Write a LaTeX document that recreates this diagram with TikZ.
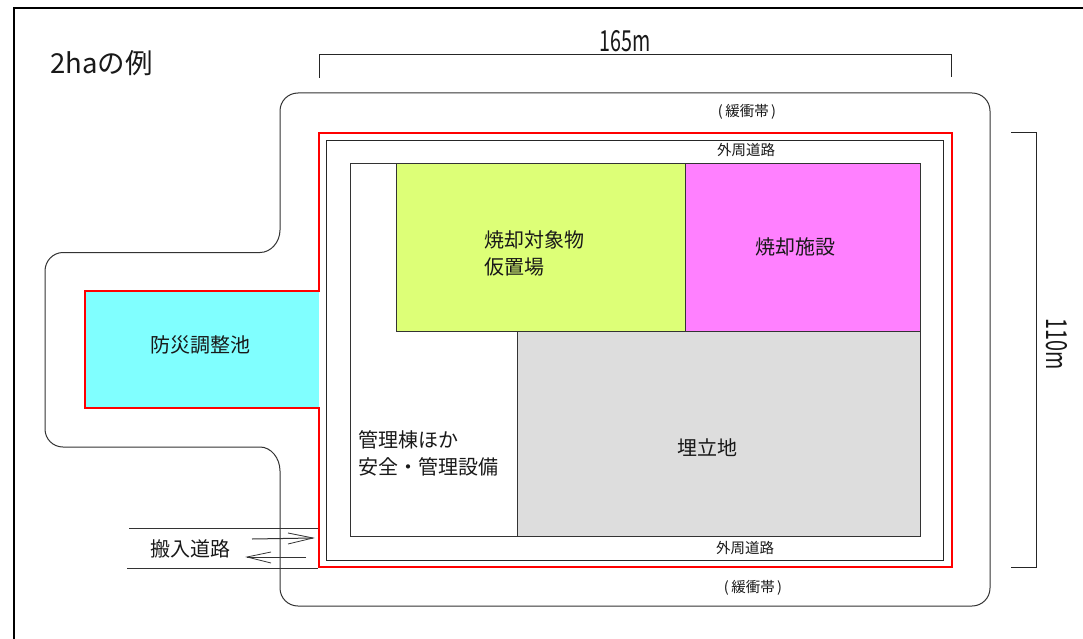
\documentclass[tikz,border=0pt]{standalone}
\usepackage{fontspec}
\setmainfont{Noto Sans CJK JP}
\newcommand{\narrowtxt}[1]{\scalebox{0.68}[1]{#1}}
\tikzset{
  line/.style={draw=black!80,line width=1pt},
  thinline/.style={draw=black!85,line width=0.9pt},
  redline/.style={draw=red,line width=2pt},
  box/.style={inner sep=0pt,outer sep=0pt,anchor=north west},
  lab/.style={inner sep=0pt,font=\fontsize{20}{27}\selectfont,text=black!90,align=left},
  small/.style={inner sep=0pt,font=\fontsize{14.5}{16}\selectfont,text=black!90},
  dim/.style={inner sep=0pt,font=\fontsize{29}{32}\selectfont,text=black!90}
}
\begin{document}
\begin{tikzpicture}[x=1pt,y=-1pt]
\useasboundingbox (0,0) rectangle (1083,639);
\fill[white] (0,0) rectangle (1083,639);
% frame
\coordinate (fa) at (14,639); \coordinate (fb) at (14,8); \coordinate (fc) at (1083,8);
\draw[black,line width=1.6pt] (fa) -- (fb) -- (fc);
% buffer outline
\draw[line] (298,93) -- (972,93) .. controls (982,93) and (990,101) .. (990,111) -- (990,588)
  .. controls (990,598) and (982,606) .. (972,606) -- (298,606)
  .. controls (288,606) and (280,598) .. (280,588) -- (280,471)
  .. controls (280,458) and (271,447) .. (260,447) -- (63,447)
  .. controls (53,447) and (45,439) .. (45,429) -- (45,271)
  .. controls (45,261) and (53,252.5) .. (63,252.5) -- (260,252.5)
  .. controls (271,252.5) and (280,242) .. (280,230) -- (280,111)
  .. controls (280,101) and (288,93) .. (298,93) -- cycle;
% fills
\node[box,fill={rgb,255:red,128;green,255;blue,255},minimum width=234pt,minimum height=117pt] (pond) at (85,291) {};
\node[box,thinline,minimum width=617pt,minimum height=420pt] (road) at (326,140) {};
\node[box,line,minimum width=570.5pt,minimum height=373pt] (site) at (350,163.5) {};
\node[box,line,fill={rgb,255:red,221;green,255;blue,119},minimum width=289pt,minimum height=167.5pt] (store) at (396.5,163.5) {};
\node[box,line,fill={rgb,255:red,255;green,128;blue,255},minimum width=235pt,minimum height=167.5pt] (burn) at (685.5,163.5) {};
\node[box,line,fill={rgb,255:red,221;green,221;blue,221},minimum width=403.5pt,minimum height=205.5pt] (fill) at (517,331) {};
% red boundary
\draw[redline,line join=miter] (319,133) -- (952,133) -- (952,567) -- (319,567) -- (319,408) -- (85,408) -- (85,291) -- (319,291) -- cycle;
% dimensions
\draw[thinline] (319.5,78) -- (319.5,54) -- (951.5,54) -- (951.5,77);
\draw[thinline] (1011,132) -- (1036,132) -- (1036,567) -- (1011,567);
% access road
\draw[line] (129,528) -- (318,528);
\draw[line] (127,568) -- (318,568);
\draw[line] (252,539) -- (313,538);
\draw[line,line width=0.8pt] (288,533) -- (313,538) -- (288,544);
\draw[line] (306,557) -- (247,557);
\draw[line,line width=0.8pt] (271,552) -- (247,557) -- (271,563);
% labels
\node[inner sep=0pt,anchor=west,font=\fontsize{27.5}{30}\selectfont,text=black!90] (title) at (50,63) {2haの例};
\node[dim] (w) at (625.5,41) {\narrowtxt{165m}};
\node[dim,rotate=-90] (h) at (1057,344) {\narrowtxt{110m}};
\node[small] (b1) at (747,112) {(\,緩衝帯\,)};
\node[small] (b2) at (753,588) {(\,緩衝帯\,)};
\node[small] (r1) at (746,150) {外周道路};
\node[small] (r2) at (745,548) {外周道路};
\node[lab,anchor=west] (l1) at (484,253) {焼却対象物\\仮置場};
\node[lab] (l2) at (795,247) {焼却施設};
\node[lab] (l3) at (200,345) {防災調整池};
\node[lab] (l4) at (707,448) {埋立地};
\node[lab,anchor=west] (l5) at (358,453) {管理棟ほか\\安全・管理設備};
\node[lab] (l6) at (190,549) {搬入道路};
\end{tikzpicture}
\end{document}
